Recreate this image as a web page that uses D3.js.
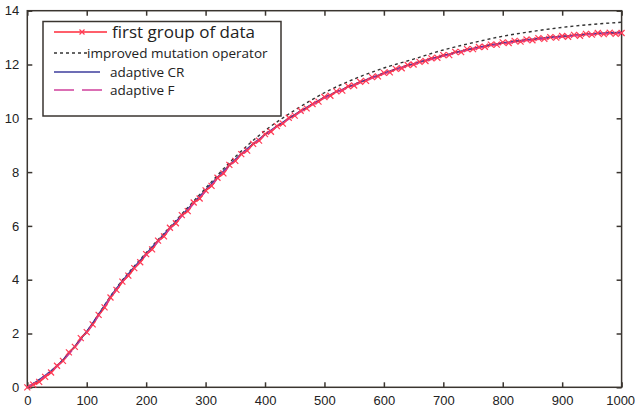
<!DOCTYPE html>
<html>
<head>
<meta charset="utf-8">
<script src="https://cdn.jsdelivr.net/npm/d3@7"></script>
<style>
  body { margin: 0; background: #fff; }
  text { fill: #222; }
</style>
</head>
<body>
<div id="viz"></div>
<script>
// iterations for the first group (every 10)
const iterRed = d3.range(0, 1001, 10)
const firstGroup = [
  0.00, 0.10, 0.20, 0.39, 0.55, 0.80, 0.98, 1.30, 1.50, 1.83,
  2.05, 2.34, 2.69, 2.97, 3.34, 3.62, 3.93, 4.15, 4.43, 4.65,
  4.95, 5.13, 5.45, 5.61, 5.93, 6.10, 6.40, 6.55, 6.87, 7.02,
  7.32, 7.49, 7.79, 7.95, 8.27, 8.42, 8.67, 8.80, 9.05, 9.17,
  9.41, 9.50, 9.71, 9.80, 10.02, 10.10, 10.28, 10.37, 10.53, 10.62,
  10.79, 10.84, 11.00, 11.03, 11.19, 11.22, 11.36, 11.39, 11.53, 11.56,
  11.69, 11.71, 11.84, 11.86, 11.98, 12.00, 12.10, 12.13, 12.23, 12.25,
  12.35, 12.35, 12.47, 12.46, 12.57, 12.57, 12.65, 12.66, 12.74, 12.74,
  12.82, 12.80, 12.88, 12.85, 12.93, 12.90, 12.98, 12.95, 13.02, 13.00,
  13.06, 13.03, 13.10, 13.07, 13.14, 13.11, 13.17, 13.13, 13.18, 13.14,
  13.17
]

// other series read every 50 iterations
const iter50 = d3.range(0, 1001, 50)
const improvedMutation = [0, 0.80, 2.07, 3.70, 5.00, 6.20, 7.40, 8.57, 9.54, 10.30, 10.95,
  11.46, 11.87, 12.20, 12.54, 12.81, 13.05, 13.23, 13.38, 13.49, 13.57]
const adaptiveCR = [0, 0.80, 2.08, 3.68, 4.97, 6.17, 7.34, 8.48, 9.40, 10.14, 10.78,
  11.26, 11.68, 12.03, 12.33, 12.60, 12.80, 12.94, 13.05, 13.14, 13.20]
const adaptiveF = [0, 0.77, 2.03, 3.63, 4.92, 6.12, 7.28, 8.43, 9.37, 10.10, 10.75,
  11.22, 11.65, 12.00, 12.30, 12.57, 12.77, 12.91, 13.02, 13.12, 13.16]

const xTicks = d3.range(0, 1001, 100)
const yTicks = d3.range(0, 15, 2)
const legendLabels = ["first group of data", "improved mutation operator", "adaptive CR", "adaptive F"]

const width = 635
const height = 409
const margin = { left: 27.3, right: 13.4, top: 10.7, bottom: 21.7 }

const svg = d3.select("#viz").append("svg")
  .attr("width", width)
  .attr("height", height)
  .style("font-family", "'Liberation Sans', Arial, sans-serif")

const x = d3.scaleLinear().domain([0, 1000]).range([margin.left, width - margin.right])
const y = d3.scaleLinear().domain([0, 14]).range([height - margin.bottom, margin.top])

const tick = 5
const axisColor = "#3a3530"

// axes: ticks pointing inward on all four sides
const axisB = svg.append("g")
  .attr("transform", `translate(0,${y(0)})`)
  .call(d3.axisBottom(x).tickValues(xTicks).tickSize(-tick).tickPadding(tick + 3).tickFormat(d3.format("d")))
const axisT = svg.append("g")
  .attr("transform", `translate(0,${y(14)})`)
  .call(d3.axisTop(x).tickValues(xTicks).tickSize(-tick).tickFormat(""))
const axisL = svg.append("g")
  .attr("transform", `translate(${x(0)},0)`)
  .call(d3.axisLeft(y).tickValues(yTicks).tickSize(-tick).tickPadding(tick + 3))
const axisR = svg.append("g")
  .attr("transform", `translate(${x(1000)},0)`)
  .call(d3.axisRight(y).tickValues(yTicks).tickSize(-tick).tickFormat(""))

;[axisB, axisT, axisL, axisR].forEach(g => {
  g.select(".domain").remove()
  g.selectAll(".tick line").attr("stroke", axisColor).attr("stroke-width", 1.5)
  g.selectAll("text").attr("font-size", 13).attr("fill", "#222")
})
// last x label sits against the right edge
axisB.selectAll(".tick text").filter(d => d === 1000).attr("text-anchor", "end").attr("x", 13)

// plot box
svg.append("rect")
  .attr("x", x(0)).attr("y", y(14))
  .attr("width", x(1000) - x(0)).attr("height", y(0) - y(14))
  .attr("fill", "none").attr("stroke", axisColor).attr("stroke-width", 1.5)

const line = (xs) => d3.line()
  .x((d, i) => x(xs[i]))
  .y(d => y(d))

const smooth = (xs) => d3.line()
  .x((d, i) => x(xs[i]))
  .y(d => y(d))
  .curve(d3.curveMonotoneX)

const redColor = "#ff2a3a"
const markerColor = "#ff3a55"

// first group of data
svg.append("path")
  .attr("d", line(iterRed)(firstGroup))
  .attr("fill", "none").attr("stroke", redColor).attr("stroke-width", 2)

const xMark = (g, cx, cy, r) => {
  g.append("path")
    .attr("d", `M${cx - r},${cy - r}L${cx + r},${cy + r}M${cx - r},${cy + r}L${cx + r},${cy - r}`)
    .attr("stroke", markerColor).attr("stroke-width", 1.2)
}

// improved mutation operator
svg.append("path")
  .attr("d", smooth(iter50)(improvedMutation))
  .attr("fill", "none").attr("stroke", "#333").attr("stroke-width", 1.4)
  .attr("stroke-dasharray", "3,3")

// adaptive CR
svg.append("path")
  .attr("d", smooth(iter50)(adaptiveCR))
  .attr("fill", "none").attr("stroke", "#3c3c9c").attr("stroke-width", 1.3)

// adaptive F
svg.append("path")
  .attr("d", smooth(iter50)(adaptiveF))
  .attr("fill", "none").attr("stroke", "#d0409c").attr("stroke-width", 1.3)
  .attr("stroke-dasharray", "10,6")

const marks = svg.append("g")
firstGroup.forEach((v, i) => xMark(marks, x(iterRed[i]), y(v), 3))

// legend
const legend = svg.append("g").style("font-family", "'Open Sans', 'Noto Sans', sans-serif")
legend.append("rect")
  .attr("x", 43).attr("y", 21.5).attr("width", 238).attr("height", 94.5)
  .attr("fill", "#fff").attr("stroke", axisColor).attr("stroke-width", 1.5)

const legendY = [32, 53, 72, 90]
// first group
legend.append("line").attr("x1", 54).attr("x2", 107).attr("y1", legendY[0]).attr("y2", legendY[0])
  .attr("stroke", redColor).attr("stroke-width", 1.5)
xMark(legend, 82, legendY[0], 2.5)
legend.append("text").attr("x", 112).attr("y", legendY[0]).attr("dy", "0.35em")
  .attr("font-size", 17).text(legendLabels[0])
// improved mutation operator
legend.append("line").attr("x1", 54).attr("x2", 87).attr("y1", legendY[1]).attr("y2", legendY[1])
  .attr("stroke", "#333").attr("stroke-width", 1.3).attr("stroke-dasharray", "3,3")
legend.append("text").attr("x", 87).attr("y", legendY[1]).attr("dy", "0.35em")
  .attr("font-size", 13.5).text(legendLabels[1])
// adaptive CR
legend.append("line").attr("x1", 54).attr("x2", 100).attr("y1", legendY[2]).attr("y2", legendY[2])
  .attr("stroke", "#3c3c9c").attr("stroke-width", 1.3)
legend.append("text").attr("x", 110).attr("y", legendY[2]).attr("dy", "0.35em")
  .attr("font-size", 13.5).text(legendLabels[2])
// adaptive F
legend.append("line").attr("x1", 54).attr("x2", 105).attr("y1", legendY[3]).attr("y2", legendY[3])
  .attr("stroke", "#d0409c").attr("stroke-width", 1.3).attr("stroke-dasharray", "20,8")
legend.append("text").attr("x", 110).attr("y", legendY[3]).attr("dy", "0.35em")
  .attr("font-size", 13.5).text(legendLabels[3])
</script>
</body>
</html>
